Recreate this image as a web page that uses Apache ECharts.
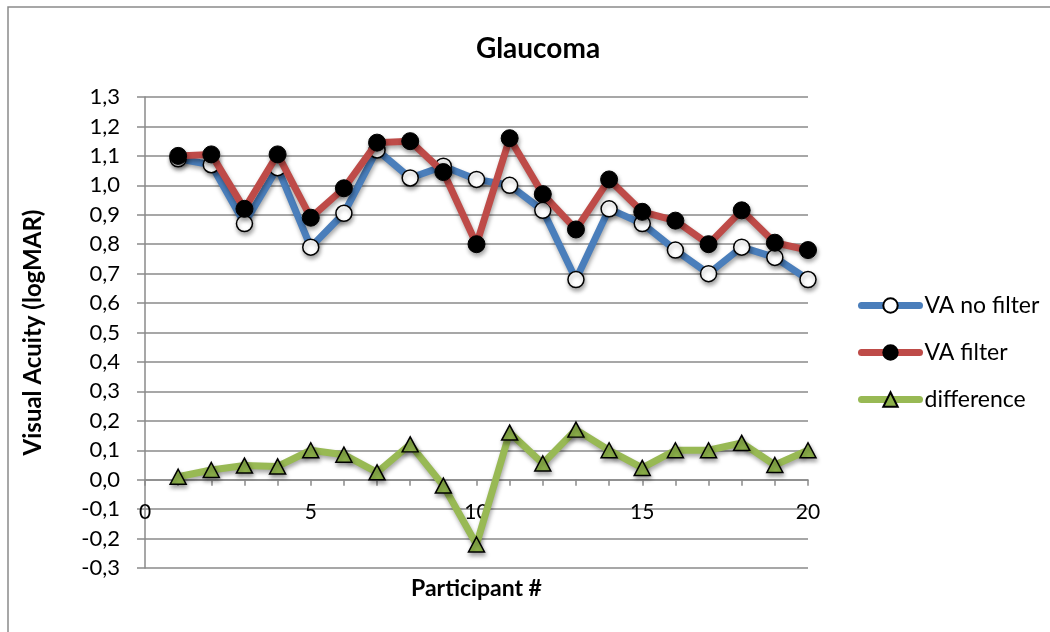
<!DOCTYPE html>
<html>
<head>
<meta charset="utf-8">
<script src="https://cdn.jsdelivr.net/npm/echarts@6/dist/echarts.min.js"></script>
<style>html,body{margin:0;padding:0;background:#fff;}#c{width:1050px;height:632px;}</style>
</head>
<body>
<div id="c"></div>
<script>
const participants = [1,2,3,4,5,6,7,8,9,10,11,12,13,14,15,16,17,18,19,20];
const vaNoFilter = [1.09,1.07,0.87,1.06,0.79,0.905,1.12,1.025,1.065,1.02,1.00,0.915,0.68,0.92,0.87,0.78,0.70,0.79,0.755,0.68];
const vaFilter   = [1.10,1.105,0.92,1.105,0.89,0.99,1.145,1.15,1.045,0.80,1.16,0.97,0.85,1.02,0.91,0.88,0.80,0.915,0.805,0.78];
const difference = [0.01,0.033,0.048,0.045,0.10,0.085,0.025,0.12,-0.02,-0.22,0.16,0.055,0.17,0.10,0.04,0.10,0.10,0.125,0.05,0.10];
const seriesNames = ['VA no filter','VA filter','difference'];
const yMin = -0.3, yMax = 1.3;

const FONT = 'Lato, "Open Sans", sans-serif';
const pair = arr => participants.map((p,i)=>[p,arr[i]]);
const shadow = {shadowColor:'rgba(0,0,0,0.35)', shadowBlur:4, shadowOffsetX:1, shadowOffsetY:3};

const GRID = {left:145, right:242, top:97, bottom:64};
const plotH = 632 - GRID.top - GRID.bottom;
// shift the x axis up so that it sits on the y = 0 line
const zeroOffset = -plotH * (0 - yMin) / (yMax - yMin);

const chart = echarts.init(document.getElementById('c'), null, {renderer:'canvas'});
chart.setOption({
  animation:false,
  backgroundColor:'#fff',
  title:{text:'Glaucoma', left:533, top:30, textAlign:'center',
    textStyle:{fontFamily:FONT, fontWeight:'bold', fontSize:28, color:'#000'}},
  graphic:[{type:'rect', shape:{x:8,y:7,width:1100,height:700}, style:{fill:null, stroke:'#8a8a8a', lineWidth:1.5}, z:-1}],
  legend:{orient:'vertical', left:853, top:289, itemGap:24, itemWidth:58, itemHeight:18,
    lineStyle:{width:7, cap:'round'},
    data:seriesNames, textStyle:{fontFamily:FONT, fontSize:23, color:'#000'}},
  grid:Object.assign({containLabel:false, outerBoundsMode:'none'}, GRID),
  xAxis:{type:'value', min:0, max:20, interval:5, offset:zeroOffset,
    name:'Participant #', nameLocation:'middle', nameGap:97,
    nameTextStyle:{fontFamily:FONT, fontWeight:'bold', fontSize:23, color:'#000'},
    axisLine:{onZero:false, lineStyle:{color:'#8a8a8a', width:1.5}},
    axisTick:{show:true, length:6, lineStyle:{color:'#8a8a8a', width:1.5}},
    minorTick:{show:true, splitNumber:5, length:6, lineStyle:{color:'#8a8a8a', width:1.5}},
    axisLabel:{margin:22, fontFamily:FONT, fontSize:21, color:'#000'},
    splitLine:{show:false}},
  yAxis:{type:'value', min:yMin, max:yMax, interval:0.1,
    name:'Visual Acuity (logMAR)', nameLocation:'middle', nameGap:100,
    nameTextStyle:{fontFamily:FONT, fontWeight:'bold', fontSize:24, color:'#000'},
    axisLine:{show:true, onZero:false, lineStyle:{color:'#8a8a8a', width:1.5}},
    axisTick:{show:true, length:8, inside:false, lineStyle:{color:'#8a8a8a', width:1.5}},
    axisLabel:{margin:25, fontFamily:FONT, fontSize:22, color:'#000',
      formatter:v=>(Math.round(v*10)/10).toFixed(1).replace('.',',')},
    splitLine:{show:true, lineStyle:{color:'#8a8a8a', width:1.5}}},
  series:[
    {name:seriesNames[0], type:'line', data:pair(vaNoFilter), symbol:'circle', symbolSize:16,
      lineStyle:Object.assign({color:'#4a7ebb', width:7, cap:'round'}, shadow),
      itemStyle:Object.assign({color:'#fff', borderColor:'#000', borderWidth:1.5}, shadow), z:2},
    {name:seriesNames[1], type:'line', data:pair(vaFilter), symbol:'circle', symbolSize:17,
      lineStyle:Object.assign({color:'#be4b48', width:7, cap:'round'}, shadow),
      itemStyle:Object.assign({color:'#000', borderColor:'#000', borderWidth:1}, shadow), z:3},
    {name:seriesNames[2], type:'line', data:pair(difference), symbol:'triangle', symbolSize:[16,15],
      lineStyle:Object.assign({color:'#98b954', width:7, cap:'round'}, shadow),
      itemStyle:Object.assign({color:'#8cb04a', borderColor:'#000', borderWidth:1.5}, shadow), z:4}
  ]
});
</script>
</body>
</html>
